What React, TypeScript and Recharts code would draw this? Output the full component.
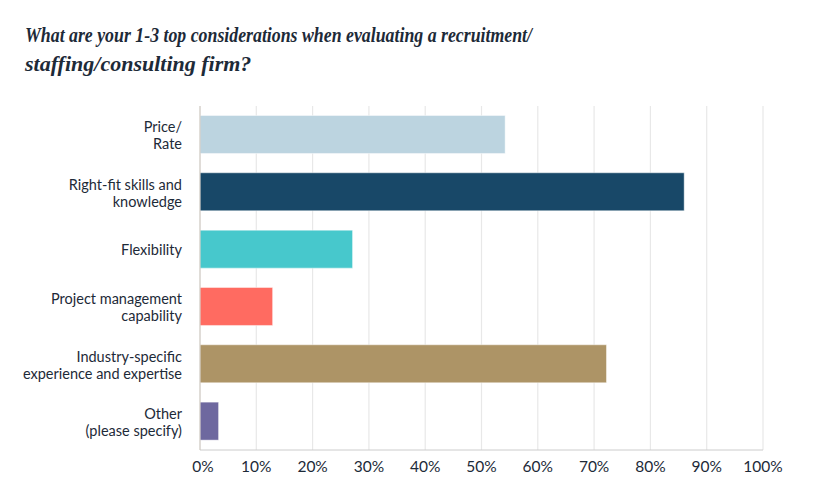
import React from "react"
import { BarChart, Bar, XAxis, YAxis, CartesianGrid, Cell } from "recharts"

const CATEGORIES = [
    "Price/\nRate",
    "Right-fit skills and\nknowledge",
    "Flexibility",
    "Project management\ncapability",
    "Industry-specific\nexperience and expertise",
    "Other\n(please specify)"
]

const VALUES = [54.2, 86.0, 27.1, 12.9, 72.2, 3.3]

const COLORS = [
    '#bcd4e0', // price
    '#184868', // right-fit
    '#47c8cc', // flexibility
    '#ff6b61', // project mgmt
    '#ad9466', // industry
    '#6e689f'  // other
]

const X_TICKS = [0, 10, 20, 30, 40, 50, 60, 70, 80, 90, 100]

const TITLE_LINES = [
    "What are your 1-3 top considerations when evaluating a recruitment/",
    "staffing/consulting firm?"
]
// first line is squeezed to the width it has in the original
const TITLE_WIDTHS = [507, undefined]

const TEXT_COLOR = '#1d2a38'
const FONT = "Lato, 'Noto Sans', sans-serif"

const data = CATEGORIES.map((name, i) => ({ name, value: VALUES[i] }))

function CategoryTick(props: any) {
    const { x, y, payload } = props
    const lines: string[] = String(payload.value).split("\n")
    const lh = 17
    const startY = y - ((lines.length - 1) * lh) / 2
    return (
        <text x={x - 10} y={startY} textAnchor="end" fill={TEXT_COLOR} fontSize={14.5} fontFamily={FONT} dominantBaseline="central">
            {lines.map((l, i) => (
                <tspan key={i} x={x - 10} y={startY + i * lh} dominantBaseline="central">{l}</tspan>
            ))}
        </text>
    )
}

function PercentTick(props: any) {
    const { x, y, payload } = props
    return (
        <text x={x + (payload.value === 0 ? 3 : 0)} y={y + 14} textAnchor="middle" fill={TEXT_COLOR} fontSize={15.5} fontFamily={FONT}>
            {`${payload.value}%`}
        </text>
    )
}

export default function App() {
    return (
        <div style={{ position: 'fixed', left: 0, top: 0, width: 819, height: 503, background: '#fff' }}>
            <svg width={819} height={90} style={{ position: 'absolute', left: 0, top: 0 }}>
                {TITLE_LINES.map((t, i) => (
                    <text
                        key={i}
                        x={25}
                        y={42 + i * 28.5}
                        fill={TEXT_COLOR}
                        fontSize={22}
                        fontWeight="bold"
                        fontStyle="italic"
                        fontFamily="'Liberation Serif', serif"
                        textLength={TITLE_WIDTHS[i]}
                        lengthAdjust="spacingAndGlyphs"
                    >
                        {t}
                    </text>
                ))}
            </svg>
            <div style={{ position: 'absolute', left: 0, top: 0 }}>
                <BarChart
                    width={819}
                    height={503}
                    data={data}
                    layout="vertical"
                    margin={{ top: 106, right: 56, left: 0, bottom: 23 }}
                    barCategoryGap="16.5%"
                >
                    <CartesianGrid horizontal={false} stroke="#e8e8e8" strokeWidth={1.2} />
                    <XAxis
                        type="number"
                        domain={[0, 100]}
                        ticks={X_TICKS}
                        interval={0}
                        tick={<PercentTick />}
                        tickLine={false}
                        axisLine={{ stroke: '#cccccc' }}
                        height={30}
                    />
                    <YAxis
                        type="category"
                        dataKey="name"
                        width={200}
                        tick={<CategoryTick />}
                        tickLine={false}
                        axisLine={{ stroke: '#cfc8bf' }}
                        interval={0}
                    />
                    <Bar dataKey="value" isAnimationActive={false} stroke="#ffffff" strokeOpacity={0.45} strokeWidth={1}>
                        {data.map((entry, index) => (
                            <Cell key={`cell-${index}`} fill={COLORS[index]} />
                        ))}
                    </Bar>
                </BarChart>
            </div>
        </div>
    )
}
